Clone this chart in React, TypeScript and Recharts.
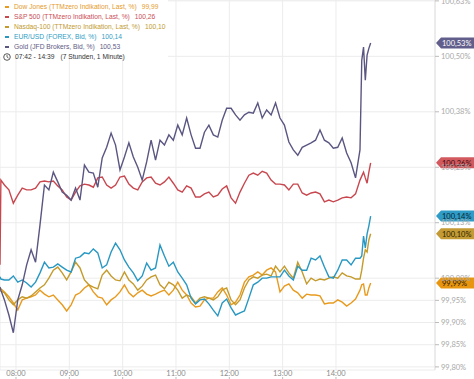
import React from 'react';
import { LineChart, Line, XAxis, YAxis, CartesianGrid, ReferenceDot } from 'recharts';

const times = [
  '07:42', '07:43',
  '07:47', '07:52', '07:57', '08:02', '08:07', '08:12', '08:17', '08:22', '08:27',
  '08:32', '08:37', '08:42', '08:47', '08:52', '08:57', '09:02', '09:07', '09:12',
  '09:17', '09:22', '09:27', '09:32', '09:37', '09:42', '09:47', '09:52', '09:57',
  '10:02', '10:07', '10:12', '10:17', '10:22', '10:27', '10:32', '10:37', '10:42',
  '10:47', '10:52', '10:57', '11:02', '11:07', '11:12', '11:17', '11:22', '11:27',
  '11:32', '11:37', '11:42', '11:47', '11:52', '11:57', '12:02', '12:07', '12:12',
  '12:17', '12:22', '12:27', '12:32', '12:37', '12:42', '12:47', '12:52', '12:57',
  '13:02', '13:07', '13:12', '13:17', '13:22', '13:27', '13:32', '13:37', '13:42',
  '13:47', '13:52', '13:57', '14:02', '14:07', '14:12', '14:17', '14:22', '14:27',
  '14:29', '14:31', '14:33', '14:35', '14:37', '14:39',
];

const gold = [
  99.980, 99.973,
  99.951, 99.917, 99.877, 99.951, 99.985, 100.030, 100.064, 100.036, 100.120,
  100.210, 100.199, 100.239, 100.217, 100.194, 100.187, 100.176, 100.203, 100.176,
  100.255, 100.239, 100.237, 100.205, 100.271, 100.295, 100.327, 100.300, 100.244,
  100.273, 100.305, 100.273, 100.250, 100.221, 100.262, 100.311, 100.266, 100.311,
  100.300, 100.323, 100.311, 100.345, 100.323, 100.361, 100.323, 100.293, 100.293,
  100.329, 100.345, 100.323, 100.318, 100.356, 100.383, 100.383, 100.368, 100.356,
  100.368, 100.374, 100.372, 100.395, 100.361, 100.379, 100.368, 100.395, 100.361,
  100.345, 100.307, 100.289, 100.277, 100.295, 100.300, 100.305, 100.311, 100.334,
  100.311, 100.305, 100.293, 100.295, 100.316, 100.282, 100.260, 100.226, 100.289,
  100.491, 100.521, 100.446, 100.503, 100.518, 100.530,
];

const sp500 = [
  100.030, 100.221,
  100.210, 100.199, 100.169, 100.187, 100.203, 100.199, 100.199, 100.203, 100.217,
  100.219, 100.217, 100.219, 100.208, 100.199, 100.183, 100.176, 100.194, 100.208,
  100.212, 100.210, 100.205, 100.226, 100.228, 100.210, 100.203, 100.210, 100.228,
  100.230, 100.212, 100.203, 100.199, 100.217, 100.226, 100.228, 100.214, 100.210,
  100.217, 100.228, 100.214, 100.199, 100.194, 100.208, 100.203, 100.183, 100.183,
  100.190, 100.194, 100.183, 100.187, 100.201, 100.208, 100.181, 100.169, 100.194,
  100.214, 100.232, 100.237, 100.232, 100.241, 100.237, 100.221, 100.212, 100.212,
  100.210, 100.199, 100.212, 100.212, 100.192, 100.187, 100.192, 100.194, 100.190,
  100.172, 100.176, 100.172, 100.176, 100.181, 100.183, 100.181, 100.190, 100.221,
  100.230, 100.239, 100.226, 100.214, 100.239, 100.260,
];

const eurUsd = [
  100.003, 99.998,
  99.996, 99.996, 100.005, 99.991, 99.996, 99.989, 99.980, 99.991, 100.012,
  100.036, 100.023, 100.025, 100.032, 100.025, 100.018, 100.014, 100.045, 100.048,
  100.057, 100.055, 100.066, 100.057, 100.023, 100.030, 100.059, 100.079, 100.064,
  100.041, 100.025, 100.012, 99.994, 100.005, 100.034, 100.018, 100.023, 100.075,
  100.050, 100.027, 100.036, 100.014, 100.000, 99.985, 99.955, 99.942, 99.951,
  99.953, 99.942, 99.928, 99.915, 99.944, 99.953, 99.933, 99.917, 99.922,
  99.926, 99.955, 99.985, 99.991, 100.000, 100.000, 100.003, 100.003, 100.003,
  100.018, 100.005, 99.996, 100.027, 100.018, 100.018, 100.045, 100.041, 100.050,
  100.025, 100.003, 100.000, 100.018, 100.041, 100.041, 100.030, 100.045, 100.045,
  100.050, 100.095, 100.068, 100.100, 100.118, 100.140,
];

const nasdaq100 = [
  99.973, 99.971,
  99.967, 99.951, 99.940, 99.951, 99.958, 99.955, 99.960, 99.969, 99.978,
  99.985, 100.000, 100.018, 100.025, 100.012, 99.996, 100.014, 100.036, 100.023,
  99.996, 99.985, 99.980, 99.976, 100.007, 100.018, 100.005, 99.996, 99.994,
  100.014, 99.996, 99.987, 99.973, 99.982, 99.996, 100.003, 100.007, 99.985,
  99.976, 99.991, 99.985, 99.973, 99.955, 99.962, 99.958, 99.944, 99.955,
  99.958, 99.955, 99.951, 99.958, 99.973, 99.978, 99.951, 99.940, 99.951,
  99.978, 99.996, 100.003, 100.000, 100.007, 100.009, 100.005, 100.027, 100.014,
  100.027, 100.012, 100.000, 100.036, 100.014, 99.987, 100.000, 99.994, 99.998,
  99.996, 100.000, 100.003, 100.000, 100.012, 100.005, 100.003, 99.998, 99.998,
  100.018, 100.045, 100.064, 100.059, 100.086, 100.100,
];

const dowJones = [
  99.978, 99.976,
  99.969, 99.958, 99.944, 99.928, 99.951, 99.955, 99.958, 99.962, 99.973,
  99.964, 99.958, 99.962, 99.951, 99.940, 99.926, 99.940, 99.962, 99.967,
  99.978, 99.985, 99.969, 99.958, 99.955, 99.940, 99.951, 99.958, 99.969,
  99.985, 99.967, 99.958, 99.967, 99.973, 99.964, 99.960, 99.964, 99.969,
  99.973, 99.962, 99.973, 99.991, 99.973, 99.962, 99.944, 99.935, 99.937,
  99.951, 99.955, 99.955, 99.969, 99.978, 99.962, 99.940, 99.946, 99.962,
  99.991, 100.003, 100.007, 100.014, 100.007, 100.018, 100.023, 100.014, 99.969,
  99.982, 99.987, 99.973, 99.967, 99.955, 99.964, 99.962, 99.962, 99.960,
  99.942, 99.944, 99.944, 99.951, 99.946, 99.937, 99.944, 99.953, 99.973,
  99.985, 99.987, 99.962, 99.962, 99.978, 99.989,
];

const xTickLabels = ['08:00', '09:00', '10:00', '11:00', '12:00', '13:00', '14:00'];
const yTicks = [99.8, 99.85, 99.9, 99.95, 100, 100.125, 100.25, 100.375, 100.5, 100.625];
const periodLabel = '07:42 - 14:39';
const durationLabel = '(7 Stunden, 1 Minute)';

const toMin = (s: string) => {
  const [h, m] = s.split(':').map(Number);
  return h * 60 + m;
};

const X_MIN = toMin('07:42');
const X_MAX = toMin('15:51') + 0.4;

const series = [
  { key: 'dow', name: 'Dow Jones (TTMzero Indikation, Last, %)', values: dowJones, color: '#e89a1e', legend: '#e59a2c', badge: '#e8950f', badgeText: '#2b1a00' },
  { key: 'ndx', name: 'Nasdaq-100 (TTMzero Indikation, Last, %)', values: nasdaq100, color: '#c49a2a', legend: '#c29a30', badge: '#c39a33', badgeText: '#2b1f00' },
  { key: 'eur', name: 'EUR/USD (FOREX, Bid, %)', values: eurUsd, color: '#2898c2', legend: '#2f9dc4', badge: '#2e9cc6', badgeText: '#0c2430' },
  { key: 'sp', name: 'S&P 500 (TTMzero Indikation, Last, %)', values: sp500, color: '#c8474f', legend: '#cc4d55', badge: '#d2595e', badgeText: '#3a0b0e' },
  { key: 'gold', name: 'Gold (JFD Brokers, Bid, %)', values: gold, color: '#5a5682', legend: '#5e5a84', badge: '#625e8c', badgeText: '#ffffff' },
];

const legendOrder = ['dow', 'sp', 'ndx', 'eur', 'gold'];

const data = times.map((t, i) => {
  const row: Record<string, number> = { t: toMin(t) };
  series.forEach((s) => {
    row[s.key] = s.values[i];
  });
  return row;
});

const fmt = (v: number) => v.toFixed(2).replace('.', ',');

const axisFont = 'Lato, "Open Sans", sans-serif';

const XTick = (props: any) => {
  const { x, y, payload } = props;
  const mins = payload.value as number;
  const h = Math.floor(mins / 60);
  const label = `${String(h).padStart(2, '0')}:00`;
  return (
    <g>
      <text x={x} y={y + 6} textAnchor="middle" fontSize={7.5} fill="#8a8a8a" fontFamily={axisFont}>
        {label}
      </text>
      <line x1={x} x2={x} y1={y + 7} y2={y + 10} stroke="#bbb" strokeWidth={1} />
    </g>
  );
};

const YTick = (props: any) => {
  const { x, y, payload } = props;
  return (
    <text x={x} y={y} dy={2.7} textAnchor="start" fontSize={7.5} fill="#a8a8a8" fontFamily={axisFont}>
      {fmt(payload.value)}%
    </text>
  );
};

const makeBadge = (bg: string, fg: string, label: string) => (p: any) => {
  const { cx, cy } = p;
  const h = 5.5;
  const left = cx + 1;
  const right = cx + 39;
  const d = `M${left},${cy} L${left + 5},${cy - h} L${right},${cy - h} L${right},${cy + h} L${left + 5},${cy + h} Z`;
  return (
    <g>
      <path d={d} fill={bg} />
      <text x={left + 6} y={cy + 2.7} fontSize={7.5} fill={fg} fontFamily={axisFont}>
        {label}
      </text>
    </g>
  );
};

const Clock = () => (
  <svg width={8} height={8} viewBox="0 0 8 8" style={{ display: 'inline-block', verticalAlign: 'middle', marginRight: 4 }}>
    <circle cx={4} cy={4} r={3.3} fill="none" stroke="#444" strokeWidth={0.9} />
    <path d="M4,2 L4,4 L5.5,5" fill="none" stroke="#444" strokeWidth={0.8} />
  </svg>
);

export default function App() {
  const xTicks = xTickLabels.map(toMin);
  return (
    <div style={{ position: 'absolute', left: 0, top: 0, width: 474, height: 379, background: '#fff', overflow: 'hidden' }}>
      <LineChart width={474} height={379} data={data} margin={{ top: 0, right: 0, bottom: 0, left: 0 }}>
        <CartesianGrid stroke="#ececec" strokeWidth={1} />
        <XAxis
          dataKey="t"
          type="number"
          domain={[X_MIN, X_MAX]}
          ticks={xTicks}
          height={9}
          axisLine={false}
          tickLine={false}
          tickSize={0}
          tickMargin={0}
          tick={<XTick />}
          interval={0}
        />
        <YAxis
          orientation="right"
          type="number"
          domain={[99.793, 100.627]}
          ticks={yTicks}
          width={39}
          interval={0}
          axisLine={{ stroke: '#e2e2e2' }}
          tickLine={{ stroke: '#bbb' }}
          tickSize={4}
          tickMargin={2}
          tick={<YTick />}
        />
        {series.map((s) => (
          <Line
            key={s.key}
            dataKey={s.key}
            type="linear"
            stroke={s.color}
            strokeWidth={1.4}
            dot={false}
            isAnimationActive={false}
          />
        ))}
        {series.map((s) => {
          const last = s.values[s.values.length - 1];
          return (
            <ReferenceDot
              key={'b' + s.key}
              x={X_MAX}
              y={last}
              ifOverflow="visible"
              shape={makeBadge(s.badge, s.badgeText, fmt(last) + '%')}
            />
          );
        })}
      </LineChart>
      <div
        style={{
          position: 'absolute',
          left: 0,
          top: 0,
          width: 168,
          height: 57,
          background: '#fff',
          paddingTop: 2,
          boxSizing: 'border-box',
          fontFamily: '"Liberation Sans", Arial, sans-serif',
          fontSize: 6.7,
          lineHeight: '10px',
          whiteSpace: 'nowrap',
        }}
      >
        {legendOrder.map((k) => {
          const s = series.find((q) => q.key === k)!;
          const last = s.values[s.values.length - 1];
          return (
            <div key={k} style={{ height: 10, color: s.legend, paddingLeft: 5 }}>
              <span style={{ display: 'inline-block', width: 4, height: 2, background: s.color, verticalAlign: 'middle', marginRight: 5 }} />
              {s.name}
              <span style={{ marginLeft: 5 }}>{fmt(last)}</span>
            </div>
          );
        })}
        <div style={{ height: 10, color: '#333', paddingLeft: 3 }}>
          <Clock />
          {periodLabel}
          <span style={{ marginLeft: 6 }}>{durationLabel}</span>
        </div>
      </div>
    </div>
  );
}
